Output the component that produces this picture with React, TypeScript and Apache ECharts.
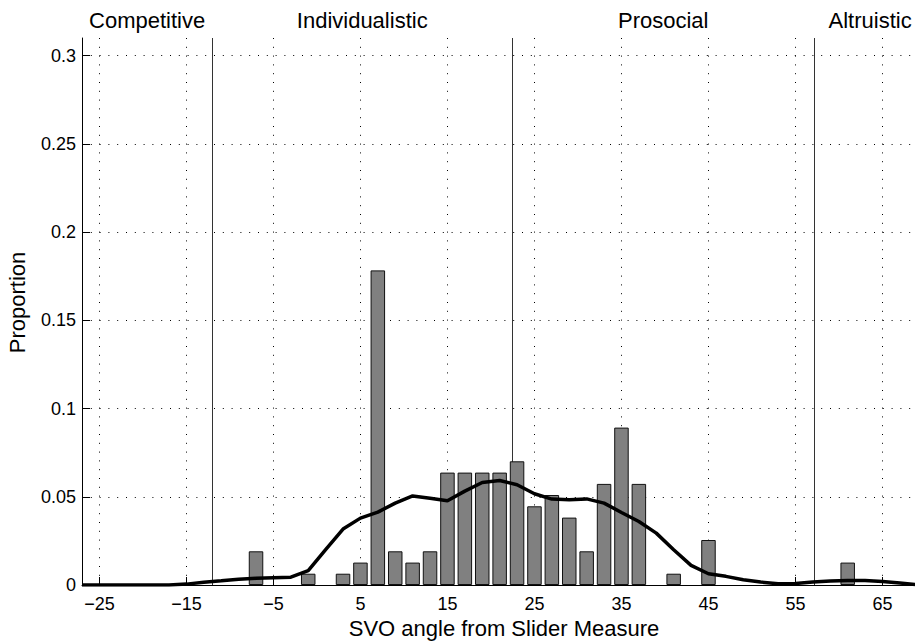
import React, { useEffect, useRef } from "react";
import * as echarts from "echarts";

// Histogram bins (centres, width 2) and proportions
const binCenters = [-7, -1, 3, 5, 7, 9, 11, 13, 15, 17, 19, 21, 23, 25, 27, 29, 31, 33, 35, 37, 41, 45, 61];
const proportions = [
  0.0191, 0.0064, 0.0064, 0.0127, 0.1783, 0.0191, 0.0127, 0.0191, 0.0637, 0.0637, 0.0637, 0.0637,
  0.0701, 0.0446, 0.051, 0.0382, 0.0191, 0.0573, 0.0892, 0.0573, 0.0064, 0.0255, 0.0127,
];

// Density curve
const kdeX = [
  -27, -25, -23, -21, -19, -17, -15, -13, -11, -9, -7, -5, -3, -1, 1, 3, 5, 7, 9, 11, 13, 15, 17, 19, 21,
  23, 25, 27, 29, 31, 33, 35, 37, 39, 41, 43, 45, 47, 49, 51, 53, 55, 57, 59, 61, 63, 65, 67, 69,
];
const kdeY = [
  0, 0, 0, 0, 0, 0, 0.0005, 0.0016, 0.0024, 0.0033, 0.0038, 0.0041, 0.0044, 0.0081, 0.02, 0.0317, 0.0379,
  0.0413, 0.0464, 0.0505, 0.0492, 0.0477, 0.0532, 0.0581, 0.0592, 0.0568, 0.0517, 0.0487, 0.0483, 0.0488,
  0.0464, 0.0411, 0.036, 0.0294, 0.02, 0.0111, 0.0064, 0.0049, 0.003, 0.0017, 0.0007, 0.0009, 0.0017,
  0.0023, 0.0026, 0.0026, 0.002, 0.0011, 0.0002,
];

const xTicks = [-25, -15, -5, 5, 15, 25, 35, 45, 55, 65];
const yTicks = [0, 0.05, 0.1, 0.15, 0.2, 0.25, 0.3];
const xRange = [-27, 70];
const yRange = [0, 0.31];

const boundaries = [-12.04, 22.45, 57.15];
const regionNames = ["Competitive", "Individualistic", "Prosocial", "Altruistic"];
const regionEdges = [-27, -12.04, 22.45, 57.15, 70];

const FONT = '"Liberation Sans", Arial, Helvetica, sans-serif';
const dotted = { type: [1, 7.8] as any, color: "#000", width: 1 };

export default function App() {
  const ref = useRef<HTMLDivElement>(null);

  useEffect(() => {
    if (!ref.current) return;
    const chart = echarts.init(ref.current, undefined, { renderer: "svg" });
    const option: any = {
      animation: false,
      backgroundColor: "#fff",
      textStyle: { fontFamily: FONT },
      grid: {
        left: 82,
        width: 844,
        top: 38,
        height: 547,
        containLabel: false,
        outerBoundsMode: "none",
      },
      xAxis: {
        type: "value",
        min: xRange[0],
        max: xRange[1],
        name: "SVO angle from Slider Measure",
        nameLocation: "middle",
        nameGap: 28,
        nameTextStyle: { fontSize: 22, color: "#000", fontFamily: FONT },
        axisLine: { show: true, onZero: false, lineStyle: { color: "#000", width: 1 } },
        axisTick: { show: true, inside: true, length: 8, customValues: xTicks, lineStyle: { color: "#000", width: 1 } },
        axisLabel: {
          customValues: xTicks,
          fontSize: 18,
          color: "#000",
          fontFamily: FONT,
          margin: 10,
          formatter: (v: number) => (v < 0 ? "\u2212" + Math.abs(v) : String(v)),
        },
        splitLine: { show: true, lineStyle: dotted },
      },
      yAxis: {
        type: "value",
        min: yRange[0],
        max: yRange[1],
        name: "Proportion",
        nameLocation: "middle",
        nameRotate: 90,
        nameGap: 54,
        nameTextStyle: { fontSize: 22, color: "#000", fontFamily: FONT, padding: [0, 0, 0, 18] },
        axisLine: { show: true, onZero: false, lineStyle: { color: "#000", width: 1 } },
        axisTick: { show: true, inside: true, length: 8, customValues: yTicks, lineStyle: { color: "#000", width: 1 } },
        axisLabel: {
          customValues: yTicks,
          fontSize: 18,
          color: "#000",
          fontFamily: FONT,
          margin: 6,
          formatter: (v: number) => String(Math.round(v * 100) / 100),
        },
        splitLine: { show: true, lineStyle: dotted },
      },
      series: [
        {
          type: "line",
          data: [],
          z: 1,
          silent: true,
          markLine: {
            silent: true,
            symbol: ["none", "none"],
            z: 1,
            label: { show: false },
            lineStyle: { type: "solid", color: "#333", width: 1 },
            data: boundaries.map((b) => ({ xAxis: b })),
          },
          markArea: {
            silent: true,
            itemStyle: { color: "rgba(0,0,0,0)" },
            label: {
              show: true,
              position: "top",
              distance: 7,
              fontSize: 22,
              color: "#000",
              fontFamily: FONT,
            },
            data: regionNames.map((n, i) => [
              { name: n, xAxis: regionEdges[i] },
              { xAxis: regionEdges[i + 1] },
            ]),
          },
        },
        {
          type: "bar",
          z: 2,
          barWidth: 14.5,
          data: binCenters.map((x, i) => [x, proportions[i]]),
          itemStyle: { color: "#808080", borderColor: "#111", borderWidth: 1 },
        },
        {
          type: "line",
          z: 3,
          data: kdeX.map((x, i) => [x, kdeY[i]]),
          showSymbol: false,
          symbol: "none",
          lineStyle: { color: "#000", width: 3.5 },
        },
      ],
    };
    chart.setOption(option);
    return () => chart.dispose();
  }, []);

  return (
    <div
      ref={ref}
      style={{ position: "absolute", left: 0, top: 0, width: 915, height: 641 }}
    />
  );
}
